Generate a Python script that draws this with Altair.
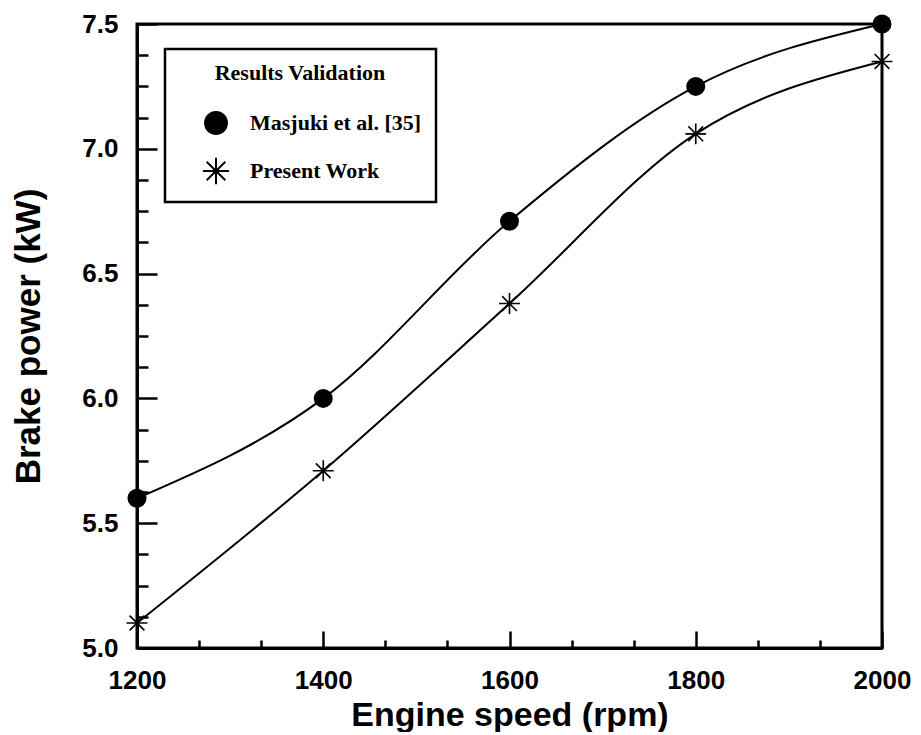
import altair as alt
import pandas as pd

rpm = [1200, 1400, 1600, 1800, 2000]
masjuki = [5.60, 6.00, 6.71, 7.25, 7.50]
present = [5.10, 5.71, 6.38, 7.06, 7.35]
series_names = ["Masjuki et al. [35]", "Present Work"]

x_major = [1200, 1400, 1600, 1800, 2000]
x_minor = [1200 + 200 * k / 3 for k in range(13) if k % 3 != 0]
y_major = [5.0, 5.5, 6.0, 6.5, 7.0, 7.5]
y_minor = [5.0 + 0.125 * k for k in range(21) if k % 4 != 0]

# eight-armed asterisk built from thin filled bars (same winding)
asterisk = (
    "M-1.1,-0.085L1.1,-0.085L1.1,0.085L-1.1,0.085Z"
    "M-0.085,-1.1L0.085,-1.1L0.085,1.1L-0.085,1.1Z"
    "M-0.84,-0.72L-0.72,-0.84L0.84,0.72L0.72,0.84Z"
    "M-0.72,0.84L-0.84,0.72L0.72,-0.84L0.84,-0.72Z"
)

rows = []
for r, a, p in zip(rpm, masjuki, present):
    rows.append({"rpm": r, "power": a, "series": series_names[0]})
    rows.append({"rpm": r, "power": p, "series": series_names[1]})
df = pd.DataFrame(rows)

xs = alt.Scale(domain=[1200, 2000], nice=False, zero=False)
ys = alt.Scale(domain=[5.0, 7.5], nice=False, zero=False)

SANS = "Liberation Sans"
SERIF = "Liberation Serif"

base = alt.Chart(df)

lines = base.mark_line(color="black", strokeWidth=2, interpolate="monotone").encode(
    x=alt.X("rpm:Q", scale=xs, axis=alt.Axis(
        orient="bottom", values=x_major, format="d", tickSize=0, labelPadding=19,
        labelFlush=False,
        title="Engine speed (rpm)", titleFontSize=34, titleFont=SANS, titleFontWeight="bold",
        titlePadding=5, labelFont=SANS, labelFontSize=26, labelFontWeight="bold",
        labelColor="black", titleColor="black", domainColor="black", domainWidth=3,
        grid=False)),
    y=alt.Y("power:Q", scale=ys, axis=alt.Axis(
        orient="left", values=y_major, format=".1f", tickSize=0, labelPadding=19,
        labelFlush=False,
        title="Brake power (kW)", titleFontSize=35, titleFont=SANS, titleFontWeight="bold",
        titlePadding=35, labelFont=SANS, labelFontSize=26, labelFontWeight="bold",
        labelColor="black", titleColor="black", domainColor="black", domainWidth=3,
        grid=False)),
    detail="series:N",
)

points = base.mark_point(filled=True, fill="black", opacity=1).encode(
    x=alt.X("rpm:Q", scale=xs, axis=None),
    y=alt.Y("power:Q", scale=ys, axis=None),
    shape=alt.Shape("series:N", scale=alt.Scale(domain=series_names,
                                                 range=["circle", asterisk]),
                    legend=alt.Legend(
                        title="Results Validation", orient="none", legendX=28, legendY=25,
                        titleFont=SERIF, titleFontSize=22, titleFontWeight="bold",
                        titleColor="black", titleAnchor="middle", titlePadding=25,
                        labelFont=SERIF, labelFontSize=22, labelFontWeight="bold",
                        labelColor="black", labelOffset=21, padding=14, labelLimit=400,
                        strokeColor="black", fillColor="white",
                        symbolSize=570, symbolOffset=24, rowPadding=16,
                        symbolFillColor="black", symbolOpacity=1)),
    size=alt.SizeValue(360),
)

def tick_layer(xvals, yvals, xlen, ylen):
    return base.mark_point(opacity=0).encode(
        x=alt.X("rpm:Q", scale=xs, axis=alt.Axis(
            orient="bottom", values=xvals, offset=-xlen, tickSize=xlen, tickWidth=2.5,
            tickColor="black", labels=False, domain=False, title=None, grid=False)),
        y=alt.Y("power:Q", scale=ys, axis=alt.Axis(
            orient="left", values=yvals, offset=-ylen, tickSize=ylen, tickWidth=2.5,
            tickColor="black", labels=False, domain=False, title=None, grid=False)),
    )

major = tick_layer(x_major, y_major, 17, 20)
minor = tick_layer(x_minor, y_minor, 8, 11)

chart = alt.layer(lines, points, major, minor).resolve_axis(
    x="independent", y="independent"
).properties(
    width=745, height=624, background="white",
    padding={"left": 3, "top": 3, "right": 0, "bottom": 0},
).configure_view(
    stroke="black", strokeWidth=3
).configure_legend(strokeWidth=2.5)

chart.save("out.html", embed_options={"renderer": "svg", "actions": False})
